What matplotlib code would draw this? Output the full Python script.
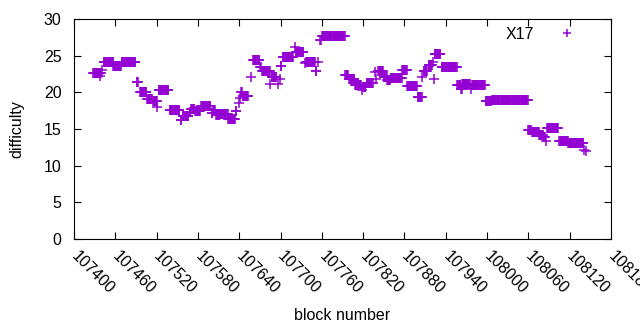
import numpy as np
import matplotlib
matplotlib.use('Agg')
import matplotlib.pyplot as plt
import matplotlib.transforms as mtransforms

# runs of constant difficulty: first block, last block, difficulty
run_start = [107428, 107438, 107441, 107443, 107457, 107469, 107491, 107496, 107506, 107515,
             107521, 107523, 107539, 107555, 107558, 107568, 107570, 107576, 107585, 107600,
             107602, 107606, 107612, 107624, 107635, 107639, 107641, 107643, 107645, 107657,
             107660, 107670, 107673, 107685, 107687, 107697, 107699, 107700, 107703, 107721,
             107722, 107736, 107737, 107751, 107754, 107758, 107760, 107794, 107800, 107808,
             107818, 107820, 107825, 107837, 107839, 107842, 107850, 107855, 107860, 107863,
             107877, 107884, 107899, 107906, 107908, 107915, 107921, 107923, 107924, 107934,
             107957, 107962, 107964, 107976, 107978, 107998, 108007, 108060, 108065, 108076,
             108082, 108085, 108087, 108105, 108118, 108141, 108143]
run_end = [107439, 107438, 107441, 107457, 107468, 107489, 107493, 107505, 107513, 107520,
           107521, 107537, 107553, 107556, 107566, 107569, 107575, 107583, 107598, 107601,
           107605, 107611, 107623, 107634, 107636, 107639, 107641, 107644, 107653, 107657,
           107669, 107671, 107684, 107685, 107694, 107697, 107699, 107701, 107718, 107721,
           107733, 107736, 107750, 107752, 107754, 107759, 107793, 107798, 107807, 107817,
           107818, 107823, 107834, 107837, 107839, 107849, 107854, 107859, 107862, 107876,
           107883, 107898, 107905, 107906, 107913, 107920, 107921, 107923, 107932, 107956,
           107961, 107963, 107975, 107976, 107997, 108006, 108059, 108064, 108075, 108081,
           108084, 108085, 108103, 108117, 108140, 108141, 108143]
run_value = [22.7, 22.2, 23.1, 24.1, 23.6, 24.1, 21.4, 20.0, 19.1, 18.8,
             18.0, 20.3, 17.55, 16.2, 16.8, 17.3, 17.7, 17.5, 18.1, 17.2,
             17.6, 16.9, 17.0, 16.4, 17.4, 18.5, 19.2, 20.05, 19.5, 22.05,
             24.4, 23.4, 22.9, 21.2, 22.05, 21.2, 21.8, 23.6, 24.8, 26.2,
             25.45, 24.0, 24.2, 22.9, 24.2, 27.2, 27.7, 22.4, 21.8, 20.95,
             20.3, 20.7, 21.3, 22.8, 21.8, 22.95, 22.05, 21.7, 22.0, 21.9,
             23.05, 20.9, 19.3, 22.05, 22.95, 23.7, 24.1, 21.8, 25.2, 23.4,
             21.0, 20.4, 21.2, 20.5, 20.95, 18.8, 18.95, 14.9, 14.55, 14.2,
             13.9, 13.4, 15.1, 13.3, 13.05, 12.2, 11.95]

blocks = []
diffs = []
for s, e, v in zip(run_start, run_end, run_value):
    for b in range(s, e + 1):
        blocks.append(b)
        diffs.append(v)

purple = '#9400d3'
plt.rcParams['font.family'] = ['Liberation Sans', 'DejaVu Sans']
plt.rcParams['font.size'] = 11.5

fig = plt.figure(figsize=(6.4, 3.3), dpi=100)
ax = fig.add_axes([74/640, 1 - 239/330, 537/640, 220/330])
ax.plot(blocks, diffs, linestyle='none', marker='+', markersize=6.5,
        markeredgewidth=1.1, color=purple, label='X17')

ax.set_xlim(107400, 108180)
ax.set_ylim(0, 30)
ax.set_xticks(np.arange(107400, 108181, 60))
ax.set_yticks(np.arange(0, 31, 5))
ax.tick_params(direction='in', top=True, right=True, length=5, width=0.8)
ax.tick_params(axis='y', pad=9)
ax.tick_params(axis='x', pad=7)
# nudge the slanted labels a few pixels right, like gnuplot does
shift = mtransforms.ScaledTranslation(5/100, 0, fig.dpi_scale_trans)
for lbl in ax.get_xticklabels():
    lbl.set_rotation(-45)
    lbl.set_ha('left')
    lbl.set_va('top')
    lbl.set_rotation_mode('anchor')
    lbl.set_transform(lbl.get_transform() + shift)
ax.set_xlabel('block number', labelpad=8)
ax.set_ylabel('difficulty', labelpad=14)

leg = ax.legend(loc='upper right', frameon=False, markerfirst=False,
                handlelength=2, handletextpad=1.1, borderpad=0, borderaxespad=0,
                bbox_to_anchor=(0.948, 0.965))
leg.legend_handles[0].set_markersize(5.5)

fig.savefig('out.png', dpi=100)
